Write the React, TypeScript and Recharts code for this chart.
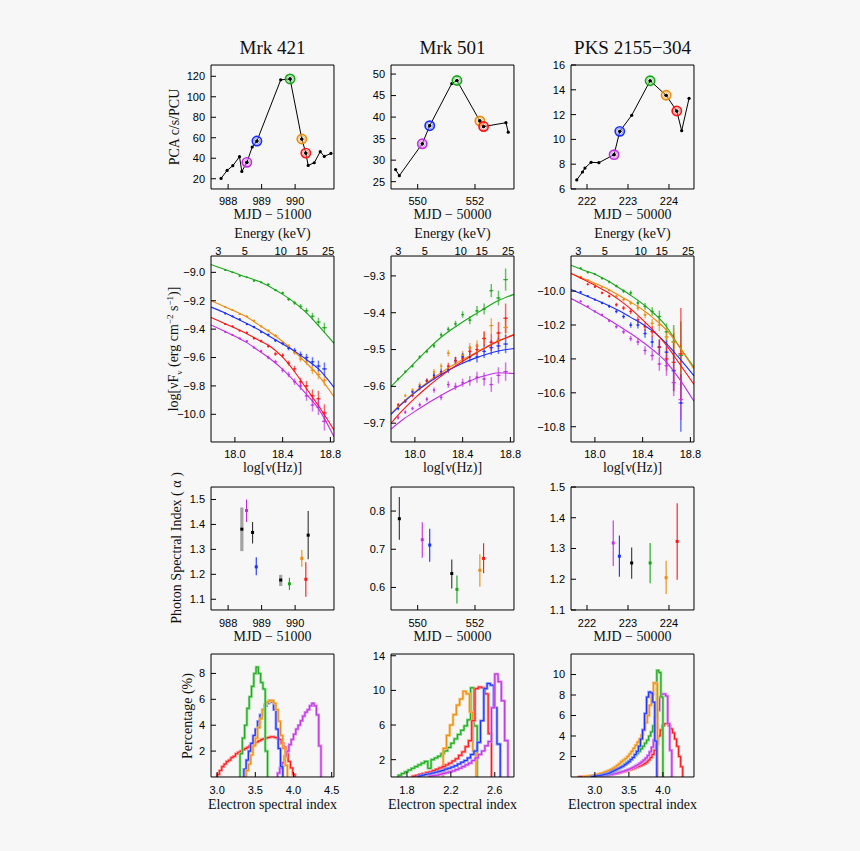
import React from 'react';
import { ComposedChart, Line, Scatter, XAxis, YAxis, ErrorBar, ReferenceDot } from 'recharts';

// ---------------- Row 1 : light curves ----------------
const lc421T = [987.79, 987.97, 988.14, 988.34, 988.41, 988.56, 988.72, 988.86, 989.57, 989.85, 990.2, 990.32, 990.39, 990.57, 990.75, 990.87, 991.07];
const lc421R = [20.3, 28.1, 32.7, 41.5, 27.1, 36.0, 51.0, 56.8, 116.5, 117.4, 58.8, 45.0, 33.0, 35.6, 46.4, 41.8, 44.7];
const lc421Hl = [5, 7, 9, 10, 11];

const lc501T = [549.23, 549.36, 550.16, 550.42, 551.19, 551.37, 552.17, 552.3, 553.08, 553.16];
const lc501R = [27.8, 26.4, 33.8, 38.0, 47.8, 48.5, 39.1, 37.8, 38.7, 36.5];
const lc501Hl = [2, 3, 5, 6, 7];

const lcPksT = [221.75, 221.89, 221.95, 222.1, 222.29, 222.66, 222.8, 223.09, 223.54, 223.93, 224.19, 224.31, 224.49];
const lcPksR = [6.73, 7.37, 7.69, 8.15, 8.12, 8.77, 10.65, 11.94, 14.73, 13.56, 12.29, 10.7, 13.31];
const lcPksHl = [5, 6, 8, 9, 10];

// state order of the highlighted observations
const STATES = ['magenta', 'blue', 'green', 'orange', 'red'];

// ---------------- Row 2 : spectra ----------------
const energyKeV = [3, 5, 10, 15, 25];
const energyMinorKeV = [4, 6, 7, 8, 9, 20];
const KEV_HZ = 2.418e17;

const modelNu = [17.8, 17.9, 18.0, 18.1, 18.2, 18.3, 18.4, 18.5, 18.6, 18.7, 18.83];

const m421Green = [-8.945, -8.975, -9.005, -9.035, -9.063, -9.105, -9.155, -9.213, -9.285, -9.375, -9.5];
const m421Orange = [-9.2, -9.237, -9.274, -9.315, -9.37, -9.425, -9.487, -9.56, -9.64, -9.727, -9.876];
const m421Blue = [-9.245, -9.28, -9.32, -9.36, -9.405, -9.455, -9.505, -9.555, -9.615, -9.68, -9.81];
const m421Red = [-9.317, -9.355, -9.392, -9.432, -9.478, -9.524, -9.598, -9.7, -9.82, -9.94, -10.11];
const m421Magenta = [-9.371, -9.41, -9.45, -9.495, -9.553, -9.612, -9.683, -9.768, -9.86, -9.96, -10.158];

const nu421 = [17.92, 17.98, 18.04, 18.1, 18.16, 18.22, 18.28, 18.34, 18.4, 18.45, 18.5, 18.55, 18.6, 18.65, 18.7, 18.75];
const ex421 = [0.008, 0.008, 0.009, 0.009, 0.01, 0.01, 0.011, 0.012, 0.012, 0.013, 0.014, 0.015, 0.016, 0.017, 0.018, 0.02];
const s421Green = [-8.985, -9.0, -9.025, -9.035, -9.06, -9.07, -9.085, -9.125, -9.145, -9.19, -9.215, -9.24, -9.27, -9.31, -9.35, -9.39];
const e421Green = [0.004, 0.004, 0.005, 0.005, 0.006, 0.006, 0.007, 0.008, 0.01, 0.012, 0.014, 0.017, 0.02, 0.025, 0.03, 0.035];
const s421Orange = [-9.245, -9.265, -9.295, -9.31, -9.34, -9.38, -9.41, -9.445, -9.495, -9.52, -9.565, -9.61, -9.63, -9.69, -9.72, -9.76];
const e421Orange = [0.005, 0.005, 0.006, 0.006, 0.007, 0.008, 0.009, 0.01, 0.012, 0.014, 0.016, 0.02, 0.024, 0.028, 0.034, 0.04];
const s421Blue = [-9.29, -9.31, -9.33, -9.365, -9.385, -9.42, -9.44, -9.48, -9.5, -9.535, -9.55, -9.58, -9.6, -9.63, -9.66, -9.68];
const e421Blue = [0.006, 0.006, 0.007, 0.007, 0.008, 0.009, 0.01, 0.011, 0.013, 0.015, 0.018, 0.022, 0.026, 0.032, 0.038, 0.045];
const s421Red = [-9.365, -9.38, -9.41, -9.425, -9.465, -9.485, -9.52, -9.575, -9.585, -9.64, -9.68, -9.77, -9.8, -9.87, -9.89, -9.99];
const e421Red = [0.006, 0.006, 0.007, 0.008, 0.009, 0.01, 0.011, 0.013, 0.015, 0.018, 0.022, 0.028, 0.035, 0.045, 0.055, 0.06];
const s421Magenta = [-9.42, -9.44, -9.465, -9.485, -9.53, -9.555, -9.6, -9.63, -9.69, -9.72, -9.77, -9.8, -9.87, -9.935, -9.95, -10.05];
const e421Magenta = [0.006, 0.006, 0.007, 0.008, 0.009, 0.01, 0.012, 0.014, 0.016, 0.019, 0.023, 0.028, 0.035, 0.045, 0.055, 0.065];

const m501Green = [-9.6, -9.568, -9.535, -9.502, -9.472, -9.447, -9.425, -9.405, -9.385, -9.367, -9.35];
const m501Orange = [-9.674, -9.643, -9.615, -9.59, -9.567, -9.546, -9.527, -9.51, -9.492, -9.476, -9.459];
const m501Blue = [-9.676, -9.645, -9.617, -9.593, -9.572, -9.553, -9.537, -9.524, -9.513, -9.504, -9.497];
const m501Red = [-9.7, -9.664, -9.632, -9.603, -9.577, -9.553, -9.532, -9.512, -9.494, -9.477, -9.46];
const m501Magenta = [-9.716, -9.69, -9.668, -9.647, -9.628, -9.61, -9.594, -9.58, -9.57, -9.563, -9.565];

const nu501 = [17.86, 17.92, 17.98, 18.04, 18.1, 18.16, 18.22, 18.28, 18.34, 18.4, 18.46, 18.52, 18.58, 18.64, 18.7, 18.76];
const ex501 = [0.008, 0.008, 0.009, 0.009, 0.01, 0.01, 0.011, 0.012, 0.012, 0.013, 0.014, 0.015, 0.016, 0.017, 0.018, 0.02];
const s501Green = [-9.58, -9.56, -9.545, -9.52, -9.505, -9.49, -9.46, -9.445, -9.43, -9.405, -9.42, -9.395, -9.39, -9.34, -9.36, -9.31];
const e501Green = [0.004, 0.004, 0.004, 0.005, 0.005, 0.006, 0.006, 0.007, 0.008, 0.009, 0.011, 0.013, 0.015, 0.018, 0.02, 0.03];
const s501Orange = [-9.655, -9.625, -9.61, -9.595, -9.585, -9.56, -9.545, -9.51, -9.53, -9.515, -9.495, -9.49, -9.47, -9.435, -9.475, -9.44];
const e501Orange = [0.005, 0.005, 0.005, 0.006, 0.006, 0.007, 0.008, 0.009, 0.01, 0.011, 0.013, 0.015, 0.018, 0.02, 0.024, 0.028];
const s501Blue = [-9.66, -9.64, -9.615, -9.6, -9.585, -9.57, -9.56, -9.555, -9.53, -9.52, -9.52, -9.52, -9.505, -9.495, -9.49, -9.485];
const e501Blue = [0.005, 0.005, 0.005, 0.006, 0.006, 0.007, 0.008, 0.009, 0.01, 0.011, 0.013, 0.015, 0.018, 0.02, 0.022, 0.025];
const s501Red = [-9.65, -9.64, -9.625, -9.605, -9.585, -9.575, -9.565, -9.545, -9.53, -9.525, -9.505, -9.5, -9.47, -9.48, -9.455, -9.415];
const e501Red = [0.005, 0.005, 0.005, 0.006, 0.006, 0.007, 0.008, 0.009, 0.01, 0.012, 0.014, 0.016, 0.02, 0.024, 0.03, 0.04];
const s501Magenta = [-9.685, -9.67, -9.66, -9.65, -9.635, -9.61, -9.63, -9.595, -9.6, -9.59, -9.585, -9.575, -9.58, -9.595, -9.57, -9.56];
const e501Magenta = [0.005, 0.005, 0.005, 0.006, 0.006, 0.007, 0.008, 0.009, 0.01, 0.011, 0.013, 0.015, 0.018, 0.02, 0.022, 0.025];

const mPksGreen = [-9.847, -9.875, -9.9, -9.936, -9.98, -10.025, -10.075, -10.135, -10.21, -10.32, -10.45];
const mPksOrange = [-9.896, -9.925, -9.953, -9.985, -10.025, -10.065, -10.11, -10.165, -10.23, -10.32, -10.46];
const mPksRed = [-9.896, -9.93, -9.965, -10.004, -10.05, -10.105, -10.17, -10.24, -10.32, -10.42, -10.55];
const mPksBlue = [-9.99, -10.02, -10.05, -10.08, -10.115, -10.155, -10.195, -10.245, -10.31, -10.39, -10.5];
const mPksMagenta = [-10.044, -10.08, -10.12, -10.162, -10.205, -10.25, -10.3, -10.355, -10.42, -10.51, -10.65];

const nuPks = [17.88, 17.94, 18.0, 18.06, 18.12, 18.18, 18.24, 18.3, 18.36, 18.42, 18.48, 18.54, 18.6, 18.66, 18.72];
const exPks = [0.008, 0.009, 0.009, 0.01, 0.01, 0.011, 0.012, 0.012, 0.013, 0.014, 0.015, 0.016, 0.017, 0.018, 0.02];
const sPksGreen = [-9.865, -9.89, -9.9, -9.925, -9.945, -9.97, -10.0, -10.01, -10.07, -10.09, -10.12, -10.15, -10.24, -10.3, -10.38];
const ePksGreen = [0.005, 0.005, 0.006, 0.007, 0.008, 0.009, 0.011, 0.013, 0.016, 0.02, 0.025, 0.035, 0.05, 0.1, 0.2];
const sPksOrange = [-9.915, -9.935, -9.96, -9.975, -9.995, -10.03, -10.05, -10.07, -10.1, -10.14, -10.19, -10.2, -10.27, -10.3, -10.37];
const ePksOrange = [0.005, 0.005, 0.006, 0.007, 0.008, 0.009, 0.011, 0.013, 0.016, 0.02, 0.025, 0.035, 0.05, 0.08, 0.05];
const sPksRed = [-9.92, -9.96, -9.975, -10.01, -10.03, -10.08, -10.1, -10.12, -10.17, -10.21, -10.24, -10.33, -10.4, -10.42, -10.37];
const ePksRed = [0.006, 0.006, 0.007, 0.008, 0.009, 0.011, 0.013, 0.016, 0.02, 0.025, 0.032, 0.045, 0.07, 0.17, 0.27];
const sPksBlue = [-10.005, -10.03, -10.05, -10.07, -10.09, -10.12, -10.15, -10.2, -10.2, -10.25, -10.3, -10.33, -10.36, -10.47, -10.66];
const ePksBlue = [0.006, 0.006, 0.007, 0.008, 0.009, 0.011, 0.013, 0.016, 0.02, 0.025, 0.032, 0.045, 0.07, 0.12, 0.17];
const sPksMagenta = [-10.06, -10.09, -10.12, -10.14, -10.175, -10.21, -10.24, -10.28, -10.3, -10.35, -10.38, -10.43, -10.44, -10.54, -10.64];
const ePksMagenta = [0.006, 0.006, 0.007, 0.008, 0.009, 0.011, 0.013, 0.016, 0.02, 0.025, 0.03, 0.04, 0.06, 0.08, 0.12];

// ---------------- Row 3 : photon index ----------------
const ix421T = [988.41, 988.55, 988.73, 988.84, 989.57, 989.83, 990.2, 990.32, 990.39];
const ix421A = [1.381, 1.456, 1.368, 1.23, 1.177, 1.162, 1.264, 1.18, 1.357];
const ix421Lo = [1.293, 1.41, 1.324, 1.196, 1.153, 1.137, 1.23, 1.11, 1.26];
const ix421Hi = [1.468, 1.5, 1.41, 1.268, 1.198, 1.186, 1.297, 1.248, 1.454];
const ix421S = ['kg', 'magenta', 'k', 'blue', 'kg', 'green', 'orange', 'red', 'k'];

const ix501T = [549.36, 550.16, 550.42, 551.19, 551.37, 552.17, 552.3];
const ix501A = [0.78, 0.725, 0.711, 0.6365, 0.595, 0.645, 0.676];
const ix501Lo = [0.725, 0.678, 0.667, 0.597, 0.558, 0.602, 0.637];
const ix501Hi = [0.837, 0.771, 0.754, 0.673, 0.631, 0.687, 0.716];
const ix501S = ['k', 'magenta', 'blue', 'k', 'green', 'orange', 'red'];

const ixPksT = [222.64, 222.79, 223.09, 223.54, 223.93, 224.2];
const ixPksA = [1.318, 1.275, 1.253, 1.253, 1.205, 1.323];
const ixPksLo = [1.243, 1.208, 1.202, 1.187, 1.152, 1.198];
const ixPksHi = [1.391, 1.342, 1.303, 1.318, 1.26, 1.447];
const ixPksS = ['magenta', 'blue', 'k', 'green', 'orange', 'red'];

// ---------------- Row 4 : electron index histograms (start, bin width, values %) ----------------
const HW = 0.03;
const h421Green = { start: 3.3, vals: [1.8, 3.0, 4.0, 5.3, 6.2, 7.0, 8.0, 8.5, 8.0, 7.3, 6.8, 2.0] };
const h421Blue = { start: 3.35, vals: [0.6, 1.3, 2.0, 2.6, 3.2, 3.7, 4.3, 4.8, 5.2, 5.5, 5.7, 5.9, 5.8, 5.2, 3.7, 2.2, 0.8] };
const h421Orange = { start: 3.38, vals: [0.5, 1.0, 1.7, 2.4, 3.0, 3.8, 4.5, 5.2, 5.6, 5.8, 5.9, 5.9, 5.7, 5.2, 4.3, 3.2, 2.2, 0.9] };
const h421Red = { start: 3.0, vals: [0.2, 0.5, 0.8, 1.0, 1.2, 1.3, 1.5, 1.6, 1.8, 1.9, 2.0, 2.1, 2.2, 2.3, 2.4, 2.5, 2.6, 2.7, 2.8, 2.9, 2.95, 3.0, 3.05, 3.1, 3.1, 3.05, 3.0, 2.9, 2.6, 2.3, 1.8, 1.2, 0.7, 0.2] };
const h421Magenta = { start: 3.79, vals: [0.3, 0.7, 1.1, 1.6, 2.0, 2.5, 2.9, 3.3, 3.7, 4.0, 4.35, 4.7, 5.0, 5.2, 5.5, 5.7, 5.5, 4.8, 2.4] };

const h501Green = { start: 1.72, vals: [0.2, 0.4, 0.6, 0.8, 1.0, 1.2, 1.4, 1.6, 1.8, 1.0, 2.0, 2.2, 2.4, 2.7, 3.0, 3.4, 3.9, 4.4, 4.9, 5.4, 5.9, 6.6, 10.3, 5.9] };
const h501Orange = { start: 2.13, vals: [3.3, 4.8, 6.0, 7.2, 8.3, 9.0, 9.9, 9.6, 7.5, 3.0] };
const h501Red = { start: 1.85, vals: [0.1, 0.2, 0.3, 0.4, 0.5, 0.6, 0.75, 0.9, 1.05, 1.2, 1.4, 1.6, 1.85, 2.1, 2.5, 2.9, 3.5, 4.2, 6.5, 10.2, 10.4, 10.3, 9.6, 5.0] };
const h501Blue = { start: 1.9, vals: [0.1, 0.2, 0.3, 0.35, 0.45, 0.55, 0.65, 0.75, 0.9, 1.0, 1.15, 1.3, 1.5, 1.7, 1.9, 2.2, 2.6, 3.0, 4.0, 6.5, 10.2, 10.8, 10.6, 8.0, 3.8] };
const h501Magenta = { start: 2.0, vals: [0.1, 0.15, 0.2, 0.3, 0.4, 0.5, 0.6, 0.7, 0.85, 1.0, 1.2, 1.4, 1.6, 1.9, 2.2, 2.6, 3.0, 3.6, 4.1, 8.0, 11.9, 11.0, 8.8, 4.2] };

const hPksBlue = { start: 2.95, vals: [0.05, 0.08, 0.1, 0.13, 0.16, 0.2, 0.25, 0.3, 0.35, 0.45, 0.55, 0.65, 0.75, 0.85, 0.95, 1.05, 1.2, 1.35, 1.5, 1.7, 1.9, 2.2, 2.5, 3.0, 3.7, 4.6, 6.2, 7.8, 8.3, 8.2, 7.3, 3.5] };
const hPksOrange = { start: 2.84, vals: [0.05, 0.08, 0.1, 0.13, 0.16, 0.2, 0.25, 0.3, 0.36, 0.42, 0.5, 0.57, 0.65, 0.75, 0.86, 1.0, 1.15, 1.3, 1.5, 1.65, 1.8, 2.0, 2.25, 2.5, 2.8, 3.1, 3.4, 3.7, 4.1, 4.6, 5.3, 6.0, 7.0, 8.0, 9.2, 9.1] };
const hPksGreen = { start: 2.92, vals: [0.05, 0.07, 0.09, 0.12, 0.15, 0.19, 0.23, 0.28, 0.33, 0.4, 0.47, 0.55, 0.64, 0.74, 0.85, 0.97, 1.1, 1.25, 1.4, 1.55, 1.7, 1.9, 2.1, 2.3, 2.5, 2.75, 3.0, 3.3, 3.6, 4.0, 4.4, 5.0, 5.8, 10.4, 10.2, 7.8] };
const hPksMagenta = { start: 2.96, vals: [0.04, 0.05, 0.06, 0.08, 0.1, 0.12, 0.15, 0.18, 0.21, 0.25, 0.29, 0.33, 0.38, 0.43, 0.5, 0.56, 0.63, 0.7, 0.78, 0.87, 0.97, 1.08, 1.2, 1.33, 1.48, 1.65, 1.85, 2.1, 2.45, 2.9, 3.6, 4.8, 6.5, 7.8, 8.1, 8.1, 7.9, 5.2, 2.6] };
const hPksRed = { start: 2.76, vals: [0.02, 0.03, 0.04, 0.05, 0.06, 0.07, 0.08, 0.09, 0.1, 0.11, 0.13, 0.14, 0.16, 0.18, 0.2, 0.23, 0.26, 0.3, 0.34, 0.38, 0.43, 0.48, 0.54, 0.6, 0.66, 0.72, 0.79, 0.86, 0.94, 1.02, 1.1, 1.2, 1.3, 1.45, 1.65, 1.9, 2.2, 2.6, 3.2, 4.0, 4.6, 5.0, 5.2, 5.2, 5.0, 4.7, 4.3, 3.7, 3.0, 2.0, 1.0] };

// ---------------- styling ----------------
const COLORS: Record<string, string> = { magenta: '#c22ee6', blue: '#1a2eff', green: '#16a616', orange: '#f08a0a', red: '#ff1414', k: '#000000', kg: '#000000' };
const LIGHT: Record<string, string> = { magenta: '#da8cf0', blue: '#8591ff', green: '#82d882', orange: '#f7c06e', red: '#ff8a8a' };
const SERIF = '"Liberation Serif", "Times New Roman", serif';
const SANS = '"Liberation Sans", Arial, sans-serif';
const TICK_FS = 11;
const TICK_STYLE = { fontSize: TICK_FS, fill: '#000', fontFamily: SANS };

const COL_X = [211, 391, 571];
const BOX_W = 123;
const ROW_Y = [65, 256, 487, 654];
const ROW_H = [124, 186, 123, 123];
const MARGIN = { top: 32, right: 10, bottom: 32, left: 52 };
const THIN = 0.01; // axis thickness (must be > 0 for the axis to render)

const steps = (a: number, b: number, s: number) => {
  const out: number[] = [];
  for (let k = Math.ceil(a / s - 1e-9); k * s <= b + 1e-9; k++) out.push(+(k * s).toFixed(6));
  return out;
};
const fmt0 = (v: number) => String(v);
const fmt1 = (v: number) => v.toFixed(1).replace('-', '\u2212');
const nuOf = (e: number) => Math.log10(e * KEV_HZ);

type Ax = { domain: [number, number]; major: number[]; minor: number[]; fmt?: (v: number) => string };

const LINE = { stroke: '#000', strokeWidth: 1 };
const AXC = { type: 'number' as const, allowDataOverflow: true, interval: 0 as const };

function frame(xa: Ax, ya: Ax, xMargin: number, top?: Ax) {
  return [
    <XAxis key="xb" xAxisId="x" dataKey="x" orientation="bottom" height={THIN} domain={xa.domain} ticks={xa.major} tickFormatter={xa.fmt} tickSize={-5} tickMargin={xMargin} tick={TICK_STYLE} axisLine={LINE} tickLine={LINE} {...AXC} />,
    <XAxis key="xbm" xAxisId="xbm" orientation="bottom" height={THIN} domain={xa.domain} ticks={xa.minor} tickSize={-2.5} tick={false} axisLine={false} tickLine={LINE} {...AXC} />,
    <XAxis key="xt" xAxisId="xt" orientation="top" height={THIN} domain={top ? top.domain : xa.domain} ticks={top ? top.major : xa.major} tickSize={-5} tick={false} axisLine={LINE} tickLine={LINE} {...AXC} />,
    <XAxis key="xtm" xAxisId="xtm" orientation="top" height={THIN} domain={top ? top.domain : xa.domain} ticks={top ? top.minor : xa.minor} tickSize={-2.5} tick={false} axisLine={false} tickLine={LINE} {...AXC} />,
    <YAxis key="yl" yAxisId="y" dataKey="y" orientation="left" width={THIN} domain={ya.domain} ticks={ya.major} tickFormatter={ya.fmt} tickSize={-5} tickMargin={11} tick={TICK_STYLE} axisLine={LINE} tickLine={LINE} {...AXC} />,
    <YAxis key="ylm" yAxisId="ylm" orientation="left" width={THIN} domain={ya.domain} ticks={ya.minor} tickSize={-2.5} tick={false} axisLine={false} tickLine={LINE} {...AXC} />,
    <YAxis key="yr" yAxisId="yr" orientation="right" width={THIN} domain={ya.domain} ticks={ya.major} tickSize={-5} tick={false} axisLine={LINE} tickLine={LINE} {...AXC} />,
    <YAxis key="yrm" yAxisId="yrm" orientation="right" width={THIN} domain={ya.domain} ticks={ya.minor} tickSize={-2.5} tick={false} axisLine={false} tickLine={LINE} {...AXC} />,
  ];
}

function Panel(props: { col: number; row: number; xa: Ax; ya: Ax; top?: Ax; xMargin: number; children: any }) {
  const { col, row, xa, ya, top, xMargin, children } = props;
  const w = BOX_W + MARGIN.left + MARGIN.right;
  const h = ROW_H[row] + MARGIN.top + MARGIN.bottom;
  return (
    <div style={{ position: 'absolute', left: COL_X[col] - MARGIN.left, top: ROW_Y[row] - MARGIN.top, width: w, height: h }}>
      <ComposedChart width={w} height={h} margin={MARGIN}>
        {frame(xa, ya, xMargin, top)}
        {children}
      </ComposedChart>
    </div>
  );
}

const IDS = { xAxisId: 'x', yAxisId: 'y' };

function lightCurve(T: number[], R: number[], hl: number[]) {
  const pts = T.map((t, i) => ({ x: t, y: R[i] }));
  return [
    <Line key="lc" {...IDS} data={pts} dataKey="y" type="linear" stroke="#000" strokeWidth={1} dot={{ r: 1.6, fill: '#000', stroke: '#000', strokeWidth: 0 }} isAnimationActive={false} />,
    ...hl.map((idx, k) => {
      const c = STATES[k];
      return (
        <Scatter key={'hl' + k} {...IDS} data={[pts[idx]]} isAnimationActive={false}
          shape={(p: any) => (
            <g>
              <circle cx={p.cx} cy={p.cy} r={4.6} fill="none" stroke={COLORS[c]} strokeWidth={1.7} />
              <circle cx={p.cx} cy={p.cy} r={3.1} fill="none" stroke={LIGHT[c]} strokeWidth={0.9} />
              <circle cx={p.cx} cy={p.cy} r={1.6} fill="#000" />
            </g>
          )} />
      );
    }),
  ];
}

// top energy-axis labels placed at the top edge of the spectra panels
function energyLabels(yTop: number) {
  return energyKeV.map((e) => (
    <ReferenceDot key={'ek' + e} {...IDS} x={nuOf(e)} y={yTop} r={0} ifOverflow="visible"
      label={{ value: String(e), position: 'top', offset: 1, fontSize: TICK_FS, fill: '#000', fontFamily: SANS }} />
  ));
}

function spectra(nu: number[], ex: number[], sets: [string, number[], number[]][], models: [string, number[]][], yTop: number) {
  const out: any[] = [];
  sets.forEach(([c, ys, es]) => {
    const pts = nu.map((x, i) => ({ x, y: ys[i], ey: es[i], ex: ex[i] }));
    out.push(
      <Scatter key={'s' + c} {...IDS} data={pts} isAnimationActive={false}
        shape={(p: any) => <circle cx={p.cx} cy={p.cy} r={0.9} fill={COLORS[c]} />}>
        <ErrorBar dataKey="ey" direction="y" width={0} stroke={COLORS[c]} strokeWidth={1.5} strokeOpacity={0.65} />
        <ErrorBar dataKey="ex" direction="x" width={0} stroke={COLORS[c]} strokeWidth={1.2} strokeOpacity={0.8} />
      </Scatter>
    );
  });
  models.forEach(([c, ys]) => {
    const pts = modelNu.map((x, i) => ({ x, y: ys[i] }));
    out.push(<Line key={'m' + c} {...IDS} data={pts} dataKey="y" type="monotone" stroke={COLORS[c]} strokeWidth={1.1} dot={false} isAnimationActive={false} />);
  });
  return [...out, ...energyLabels(yTop)];
}

function indexPoints(T: number[], A: number[], Lo: number[], Hi: number[], S: string[]) {
  return T.map((t, i) => {
    const s = S[i];
    const grey = s === 'kg';
    const pts = [{ x: t, y: A[i], err: [A[i] - Lo[i], Hi[i] - A[i]] }];
    return (
      <Scatter key={'ix' + i} {...IDS} data={pts} isAnimationActive={false}
        shape={(p: any) => <rect x={p.cx - 1.5} y={p.cy - 1.5} width={3} height={3} fill={COLORS[s]} />}>
        <ErrorBar dataKey="err" direction="y" width={0} stroke={grey ? '#a3a3a3' : s === 'k' ? '#333' : COLORS[s]} strokeWidth={grey ? 3.2 : 1.1} />
      </Scatter>
    );
  });
}

function histograms(sets: [string, { start: number; vals: number[] }][]) {
  const out: any[] = [];
  sets.forEach(([c, h]) => {
    const pts = [{ x: h.start, y: 0 }];
    h.vals.forEach((v, i) => pts.push({ x: h.start + i * HW, y: v }));
    pts.push({ x: h.start + h.vals.length * HW, y: 0 });
    out.push(<Line key={'hl' + c} {...IDS} data={pts} dataKey="y" type="stepAfter" stroke={LIGHT[c]} strokeWidth={2.6} dot={false} isAnimationActive={false} />);
    out.push(<Line key={'hd' + c} {...IDS} data={pts} dataKey="y" type="stepAfter" stroke={COLORS[c]} strokeWidth={1} dot={false} isAnimationActive={false} />);
  });
  return out;
}

function Txt(props: { x: number; y: number; size: number; rotate?: boolean; children: any }) {
  const { x, y, size, rotate, children } = props;
  return (
    <div style={{ position: 'absolute', left: x, top: y, transform: 'translate(-50%,-50%)' + (rotate ? ' rotate(-90deg)' : ''), fontFamily: SERIF, fontSize: size, lineHeight: 1, whiteSpace: 'nowrap', color: '#111' }}>
      {children}
    </div>
  );
}

// axis specs
const x421: Ax = { domain: [987.49, 991.16], major: [988, 989, 990], minor: steps(987.49, 991.16, 0.2), fmt: fmt0 };
const x501: Ax = { domain: [549.07, 553.36], major: [550, 552], minor: steps(549.07, 553.36, 0.5), fmt: fmt0 };
const xPks: Ax = { domain: [221.61, 224.61], major: [222, 223, 224], minor: steps(221.61, 224.61, 0.2), fmt: fmt0 };

const xNu: Ax = { domain: [17.8, 18.83], major: [18.0, 18.4, 18.8], minor: steps(17.8, 18.83, 0.05), fmt: fmt1 };
const xE: Ax = { domain: [17.8, 18.83], major: energyKeV.map(nuOf), minor: energyMinorKeV.map(nuOf) };

const y421s: Ax = { domain: [-10.195, -8.885], major: [-10.0, -9.8, -9.6, -9.4, -9.2, -9.0], minor: steps(-10.195, -8.885, 0.05), fmt: fmt1 };
const y501s: Ax = { domain: [-9.751, -9.246], major: [-9.7, -9.6, -9.5, -9.4, -9.3], minor: steps(-9.751, -9.246, 0.02), fmt: fmt1 };
const yPkss: Ax = { domain: [-10.89, -9.793], major: [-10.8, -10.6, -10.4, -10.2, -10.0], minor: steps(-10.89, -9.793, 0.05), fmt: fmt1 };

const centerX = (c: number) => COL_X[c] + BOX_W / 2;

export default function App() {
  return (
    <div style={{ position: 'absolute', left: 0, top: 0, width: 860, height: 851, background: '#f7f7f7', overflow: 'hidden' }}>
      {/* titles */}
      <Txt x={centerX(0)} y={47} size={19}>Mrk 421</Txt>
      <Txt x={centerX(1)} y={47} size={19}>Mrk 501</Txt>
      <Txt x={centerX(2)} y={47} size={19}>PKS 2155{'\u2212'}304</Txt>

      {/* Row 1 */}
      <Panel col={0} row={0} xa={x421} ya={{ domain: [10, 131], major: [20, 40, 60, 80, 100, 120], minor: steps(10, 131, 5), fmt: fmt0 }} xMargin={13}>
        {lightCurve(lc421T, lc421R, lc421Hl)}
      </Panel>
      <Panel col={1} row={0} xa={x501} ya={{ domain: [23.3, 52.1], major: [25, 30, 35, 40, 45, 50], minor: steps(23.3, 52.1, 1), fmt: fmt0 }} xMargin={13}>
        {lightCurve(lc501T, lc501R, lc501Hl)}
      </Panel>
      <Panel col={2} row={0} xa={xPks} ya={{ domain: [6, 16], major: [6, 8, 10, 12, 14, 16], minor: steps(6, 16, 0.5), fmt: fmt0 }} xMargin={13}>
        {lightCurve(lcPksT, lcPksR, lcPksHl)}
      </Panel>
      <Txt x={175} y={127} size={14} rotate>PCA c/s/PCU</Txt>
      <Txt x={centerX(0)} y={215} size={14}>MJD {'\u2212'} 51000</Txt>
      <Txt x={centerX(1)} y={215} size={14}>MJD {'\u2212'} 50000</Txt>
      <Txt x={centerX(2)} y={215} size={14}>MJD {'\u2212'} 50000</Txt>

      {/* Row 2 */}
      <Panel col={0} row={1} xa={xNu} top={xE} ya={y421s} xMargin={13}>
        {spectra(nu421, ex421,
          [['green', s421Green, e421Green], ['orange', s421Orange, e421Orange], ['blue', s421Blue, e421Blue], ['red', s421Red, e421Red], ['magenta', s421Magenta, e421Magenta]],
          [['green', m421Green], ['orange', m421Orange], ['blue', m421Blue], ['red', m421Red], ['magenta', m421Magenta]], y421s.domain[1])}
      </Panel>
      <Panel col={1} row={1} xa={xNu} top={xE} ya={y501s} xMargin={13}>
        {spectra(nu501, ex501,
          [['green', s501Green, e501Green], ['orange', s501Orange, e501Orange], ['blue', s501Blue, e501Blue], ['red', s501Red, e501Red], ['magenta', s501Magenta, e501Magenta]],
          [['green', m501Green], ['orange', m501Orange], ['blue', m501Blue], ['red', m501Red], ['magenta', m501Magenta]], y501s.domain[1])}
      </Panel>
      <Panel col={2} row={1} xa={xNu} top={xE} ya={yPkss} xMargin={13}>
        {spectra(nuPks, exPks,
          [['green', sPksGreen, ePksGreen], ['orange', sPksOrange, ePksOrange], ['blue', sPksBlue, ePksBlue], ['red', sPksRed, ePksRed], ['magenta', sPksMagenta, ePksMagenta]],
          [['green', mPksGreen], ['orange', mPksOrange], ['blue', mPksBlue], ['red', mPksRed], ['magenta', mPksMagenta]], yPkss.domain[1])}
      </Panel>
      <Txt x={175} y={349} size={14} rotate>log[{'\u03bd'}F<sub style={{ fontSize: 9 }}>{'\u03bd'}</sub> (erg cm<sup style={{ fontSize: 9 }}>{'\u2212'}2</sup> s<sup style={{ fontSize: 9 }}>{'\u2212'}1</sup>)]</Txt>
      {[0, 1, 2].map((c) => (
        <React.Fragment key={'r2' + c}>
          <Txt x={centerX(c)} y={234} size={14}>Energy (keV)</Txt>
          <Txt x={centerX(c)} y={468} size={14}>log[{'\u03bd'}(Hz)]</Txt>
        </React.Fragment>
      ))}

      {/* Row 3 */}
      <Panel col={0} row={2} xa={x421} ya={{ domain: [1.057, 1.55], major: [1.1, 1.2, 1.3, 1.4, 1.5], minor: steps(1.057, 1.55, 0.02), fmt: fmt1 }} xMargin={14}>
        {indexPoints(ix421T, ix421A, ix421Lo, ix421Hi, ix421S)}
      </Panel>
      <Panel col={1} row={2} xa={x501} ya={{ domain: [0.541, 0.863], major: [0.6, 0.7, 0.8], minor: steps(0.541, 0.863, 0.02), fmt: fmt1 }} xMargin={14}>
        {indexPoints(ix501T, ix501A, ix501Lo, ix501Hi, ix501S)}
      </Panel>
      <Panel col={2} row={2} xa={xPks} ya={{ domain: [1.1, 1.5], major: [1.1, 1.2, 1.3, 1.4, 1.5], minor: steps(1.1, 1.5, 0.02), fmt: fmt1 }} xMargin={14}>
        {indexPoints(ixPksT, ixPksA, ixPksLo, ixPksHi, ixPksS)}
      </Panel>
      <Txt x={177} y={548} size={14} rotate>Photon Spectral Index ( {'\u03b1'} )</Txt>
      <Txt x={centerX(0)} y={637} size={14}>MJD {'\u2212'} 51000</Txt>
      <Txt x={centerX(1)} y={637} size={14}>MJD {'\u2212'} 50000</Txt>
      <Txt x={centerX(2)} y={637} size={14}>MJD {'\u2212'} 50000</Txt>

      {/* Row 4 */}
      <Panel col={0} row={3} xa={{ domain: [2.92, 4.53], major: [3.0, 3.5, 4.0, 4.5], minor: steps(2.92, 4.53, 0.1), fmt: fmt1 }} ya={{ domain: [0, 9.5], major: [2, 4, 6, 8], minor: steps(0, 9.5, 0.5), fmt: fmt0 }} xMargin={14}>
        {histograms([['red', h421Red], ['magenta', h421Magenta], ['blue', h421Blue], ['orange', h421Orange], ['green', h421Green]])}
      </Panel>
      <Panel col={1} row={3} xa={{ domain: [1.655, 2.775], major: [1.8, 2.2, 2.6], minor: steps(1.655, 2.775, 0.1), fmt: fmt1 }} ya={{ domain: [0, 14.2], major: [2, 6, 10, 14], minor: steps(0, 14.2, 1), fmt: fmt0 }} xMargin={14}>
        {histograms([['green', h501Green], ['orange', h501Orange], ['red', h501Red], ['blue', h501Blue], ['magenta', h501Magenta]])}
      </Panel>
      <Panel col={2} row={3} xa={{ domain: [2.65, 4.456], major: [3.0, 3.5, 4.0], minor: steps(2.65, 4.456, 0.1), fmt: fmt1 }} ya={{ domain: [0, 12], major: [2, 4, 6, 8, 10], minor: steps(0, 12, 0.5), fmt: fmt0 }} xMargin={14}>
        {histograms([['red', hPksRed], ['magenta', hPksMagenta], ['green', hPksGreen], ['orange', hPksOrange], ['blue', hPksBlue]])}
      </Panel>
      <Txt x={188} y={716} size={14} rotate>Percentage (%)</Txt>
      {[0, 1, 2].map((c) => (
        <Txt key={'r4' + c} x={centerX(c)} y={805} size={14}>Electron spectral index</Txt>
      ))}
    </div>
  );
}
